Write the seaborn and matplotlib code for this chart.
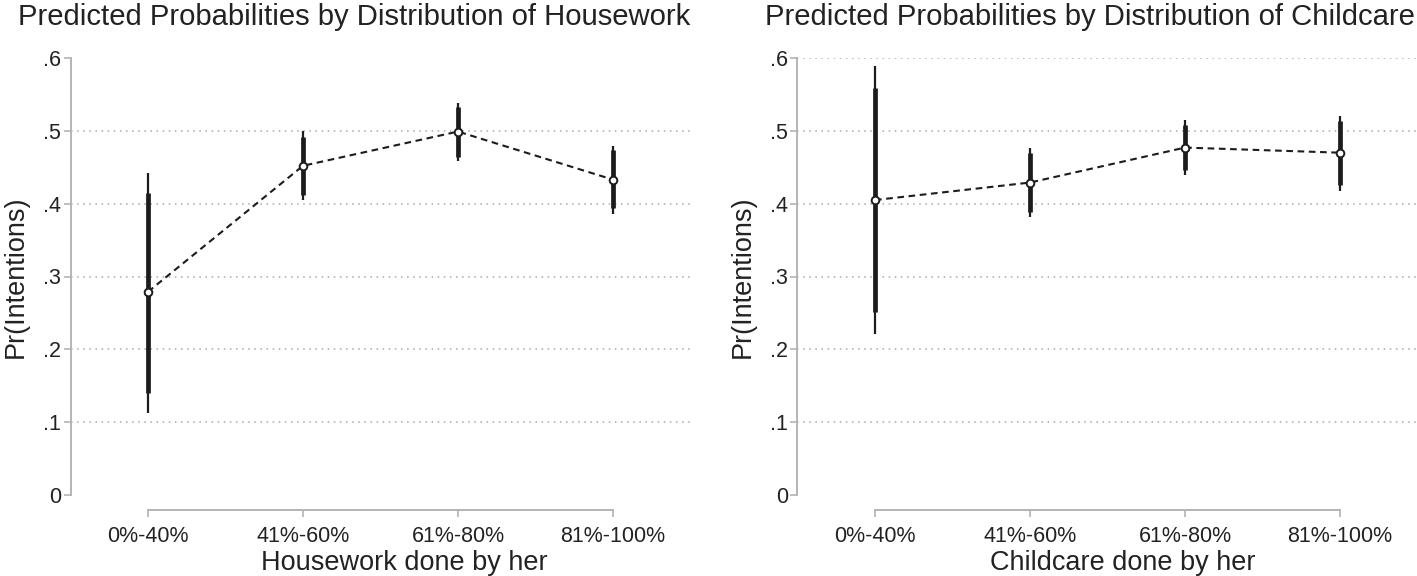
import matplotlib.pyplot as plt
import pandas as pd
import seaborn as sns

CATEGORIES = ["0%-40%", "41%-60%", "61%-80%", "81%-100%"]

# Housework panel: point estimate, thick (inner) CI, thin (outer) CI
HW_PRED = [0.279, 0.452, 0.499, 0.433]
HW_IN_LO = [0.140, 0.412, 0.464, 0.394]
HW_IN_HI = [0.415, 0.492, 0.533, 0.473]
HW_OUT_LO = [0.113, 0.405, 0.459, 0.386]
HW_OUT_HI = [0.442, 0.500, 0.538, 0.479]

# Childcare panel
CC_PRED = [0.405, 0.429, 0.477, 0.470]
CC_IN_LO = [0.251, 0.389, 0.446, 0.425]
CC_IN_HI = [0.559, 0.470, 0.508, 0.514]
CC_OUT_LO = [0.221, 0.382, 0.440, 0.418]
CC_OUT_HI = [0.589, 0.477, 0.515, 0.521]

Y_TICKS = [0, 0.1, 0.2, 0.3, 0.4, 0.5, 0.6]
Y_TICK_LABELS = ["0", ".1", ".2", ".3", ".4", ".5", ".6"]

sns.set_theme(style="white")
plt.rcParams["font.family"] = ["Liberation Sans", "DejaVu Sans"]

INK = "#1c1c1c"
TEXT = "#222222"
AXIS_GRAY = "#b4b4b4"
GRID_GRAY = "#a8a8a8"

fig = plt.figure(figsize=(14.17, 5.76), dpi=100)
ax_left = fig.add_axes([70.5 / 1417, 1 - 495 / 576, 620 / 1417, 437 / 576])
ax_right = fig.add_axes([797.5 / 1417, 1 - 495 / 576, 620 / 1417, 437 / 576])

panels = [
    (ax_left, HW_PRED, HW_IN_LO, HW_IN_HI, HW_OUT_LO, HW_OUT_HI,
     "Housework done by her", Y_TICKS[1:-1], 0.538),
    (ax_right, CC_PRED, CC_IN_LO, CC_IN_HI, CC_OUT_LO, CC_OUT_HI,
     "Childcare done by her", Y_TICKS[1:], 0.525),
]

for ax, pred, in_lo, in_hi, out_lo, out_hi, xlabel, grid_at, xlab_x in panels:
    df = pd.DataFrame({"x": range(len(CATEGORIES)), "pred": pred})

    for g in grid_at:
        ax.axhline(g, color=GRID_GRAY, lw=1.1, linestyle=(0, (1, 3)), zorder=0)

    ax.vlines(df["x"], out_lo, out_hi, color=INK, lw=1.6, zorder=2)
    ax.vlines(df["x"], in_lo, in_hi, color=INK, lw=3.4, zorder=2)
    sns.lineplot(data=df, x="x", y="pred", ax=ax, color=INK, lw=1.5,
                 linestyle=(0, (3.2, 2.2)), marker="o", markersize=5.5,
                 markerfacecolor="white", markeredgecolor=INK,
                 markeredgewidth=1.4, zorder=3)

    sns.despine(ax=ax, top=True, right=True)
    ax.spines["left"].set_color(AXIS_GRAY)
    ax.spines["left"].set_linewidth(1.4)
    ax.spines["bottom"].set_color(AXIS_GRAY)
    ax.spines["bottom"].set_linewidth(1.4)
    ax.spines["bottom"].set_position(("outward", 11))

    ax.set_xlim(-0.5, 3.5)
    ax.set_ylim(0, 0.6)
    ax.spines["left"].set_bounds(0, 0.6)
    ax.spines["bottom"].set_bounds(0, 3)
    ax.set_xticks(range(len(CATEGORIES)))
    ax.set_xticklabels(CATEGORIES)
    ax.set_yticks(Y_TICKS)
    ax.set_yticklabels(Y_TICK_LABELS)
    ax.tick_params(axis="both", which="both", direction="out", length=5,
                   width=1.2, color=AXIS_GRAY, left=True, bottom=True,
                   labelsize=15.5, labelcolor=TEXT)
    ax.tick_params(axis="y", pad=2)
    ax.tick_params(axis="x", pad=6)

    ax.set_xlabel(xlabel, fontsize=19.5, color=TEXT)
    ax.xaxis.set_label_coords(xlab_x, -0.125)
    ax.set_ylabel("Pr(Intentions)", fontsize=19.5, color=TEXT, labelpad=10)
    ax.grid(False)

fig.text(18 / 1417, 1 - 25 / 576, "Predicted Probabilities by Distribution of Housework",
         fontsize=21.1, color=TEXT, ha="left", va="baseline")
fig.text(765 / 1417, 1 - 25 / 576, "Predicted Probabilities by Distribution of Childcare",
         fontsize=21.1, color=TEXT, ha="left", va="baseline")

fig.savefig("out.png", dpi=100)
